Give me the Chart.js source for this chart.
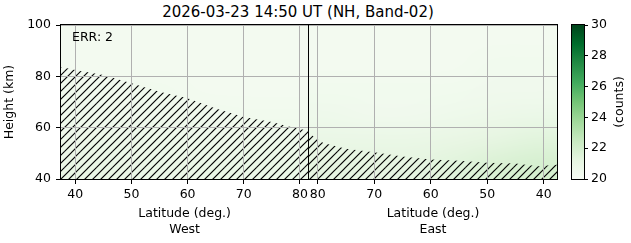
<!DOCTYPE html>
<html>
<head>
<meta charset="utf-8">
<script src="https://cdn.jsdelivr.net/npm/chart.js@4.4.1/dist/chart.umd.min.js"></script>
<style>
    body { margin: 0; width: 631px; height: 243px; background: #fff; position: relative; overflow: hidden; font-family: 'DejaVu Sans'; }
    canvas { position: absolute; top: 0; }
    #title { position: absolute; left: 0; width: 596px; top: 3px; text-align: center; font-size: 15px; color: #000; }
</style>
</head>
<body>
<div id="title">2026-03-23 14:50 UT (NH, Band-02)</div>
<canvas id="west" style="left:0px" width="311" height="243"></canvas>
<canvas id="east" style="left:305px" width="260" height="243"></canvas>
<canvas id="cbar" style="left:560px" width="71" height="243"></canvas>
<script>
// ---- data ----
const latTicks = [40, 50, 60, 70, 80];
const heightTicks = [40, 60, 80, 100];
const countTicks = [20, 22, 24, 26, 28, 30];

const westLatRange = [37.46, 81.47];
const eastLatRange = [81.54, 37.65];   // drawn left to right
const heightRange = [100, 40];          // rows top to bottom

// background counts, rows from 100 km down to 40 km, columns left to right
const westCounts = [
    [20.3, 20.3, 20.3, 20.3, 20.3, 20.3],
    [20.3, 20.3, 20.3, 20.3, 20.3, 20.3],
    [20.4, 20.4, 20.4, 20.3, 20.3, 20.3],
    [20.5, 20.5, 20.5, 20.5, 20.4, 20.4],
    [20.7, 20.7, 20.6, 20.6, 20.6, 20.6],
    [20.9, 20.9, 20.8, 20.8, 20.8, 20.8]
];
const eastCounts = [
    [20.3, 20.3, 20.3, 20.3, 20.3, 20.3],
    [20.3, 20.3, 20.3, 20.3, 20.4, 20.4],
    [20.4, 20.4, 20.4, 20.4, 20.5, 20.5],
    [20.6, 20.5, 20.5, 20.6, 20.7, 20.8],
    [20.9, 20.9, 20.9, 21.0, 21.2, 21.4],
    [21.2, 21.2, 21.2, 21.4, 21.7, 21.9]
];

// upper edge of the hatched (masked) region
const westEdgeLat = [37.46, 40, 45, 50, 55, 60, 65, 70, 75, 78, 81.47];
const westEdgeHeight = [83.6, 82.5, 80.5, 77.3, 74.0, 71.5, 67.5, 64.2, 62.2, 60.5, 58.8];
const eastEdgeLat = [81.54, 80, 79, 75, 70, 65, 60, 55, 50, 45, 41, 37.65];
const eastEdgeHeight = [57.8, 55.5, 54.0, 51.8, 50.4, 48.8, 47.6, 47.1, 46.3, 46.0, 45.0, 45.6];

const greens = ['#f7fcf5', '#e5f5e0', '#c7e9c0', '#a1d99b', '#74c476', '#41ab5d', '#238b45', '#006d2c', '#00441b'];

Chart.defaults.font.family = 'DejaVu Sans';
Chart.defaults.font.size = 12.5;
Chart.defaults.color = '#000';

function hexRgb(h) {
    return [1, 3, 5].map(i => parseInt(h.substr(i, 2), 16));
}

function greenColor(v) {
    let t = (v - countTicks[0]) / (countTicks[countTicks.length - 1] - countTicks[0]);
    t = Math.min(1, Math.max(0, t)) * (greens.length - 1);
    let i = Math.min(greens.length - 2, Math.floor(t));
    let a = hexRgb(greens[i]), b = hexRgb(greens[i + 1]), f = t - i;
    let c = a.map((x, k) => Math.round(x + (b[k] - x) * f));
    return 'rgb(' + c.join(',') + ')';
}

// "//" hatch, 8px apart
function makeHatch() {
    let c = document.createElement('canvas');
    c.width = 16; c.height = 16;
    let g = c.getContext('2d');
    g.strokeStyle = '#000';
    g.lineWidth = 1.15;
    for (let k = 0; k <= 32; k += 8) {
        g.beginPath();
        g.moveTo(-1, k + 1);
        g.lineTo(k + 1, -1);
        g.stroke();
    }
    return g.createPattern(c, 'repeat');
}

// smooth background image, stretched over the scales
const heatmap = {
    id: 'heatmap',
    beforeDatasetsDraw(chart, args, opts) {
        if (!opts.counts) return;
        let ctx = chart.ctx, a = chart.chartArea;
        let rows = opts.counts.length, cols = opts.counts[0].length;
        let off = document.createElement('canvas');
        off.width = cols; off.height = rows;
        let g = off.getContext('2d');
        opts.counts.forEach((row, r) => row.forEach((v, c) => {
            g.fillStyle = greenColor(v);
            g.fillRect(c, r, 1, 1);
        }));
        let x0 = chart.scales.x.getPixelForValue(opts.latRange[0]);
        let x1 = chart.scales.x.getPixelForValue(opts.latRange[1]);
        let y0 = chart.scales.y.getPixelForValue(heightRange[0]);
        let y1 = chart.scales.y.getPixelForValue(heightRange[1]);
        ctx.save();
        ctx.beginPath();
        ctx.rect(a.left, a.top, a.right - a.left, a.bottom - a.top);
        ctx.clip();
        ctx.imageSmoothingEnabled = true;
        ctx.imageSmoothingQuality = 'high';
        ctx.drawImage(off, x0, y0, x1 - x0, y1 - y0);
        ctx.restore();
    }
};

// black frame + optional note
const frame = {
    id: 'frame',
    afterDraw(chart, args, opts) {
        let ctx = chart.ctx, a = chart.chartArea;
        ctx.save();
        ctx.strokeStyle = '#000';
        ctx.lineWidth = 1;
        ctx.strokeRect(Math.round(a.left) - 0.5, Math.round(a.top) - 0.5,
            Math.round(a.right - a.left) + 1, Math.round(a.bottom - a.top) + 1);
        if (opts.note) {
            ctx.font = '12.5px "DejaVu Sans"';
            ctx.fillStyle = '#000';
            ctx.textBaseline = 'middle';
            ctx.fillText(opts.note, a.left + 11, a.top + 13);
        }
        ctx.restore();
    }
};

function panel(id, latRange, counts, edgeLat, edgeHeight, side) {
    let west = side === 'West';
    let lo = Math.min(latRange[0], latRange[1]), hi = Math.max(latRange[0], latRange[1]);
    return new Chart(document.getElementById(id), {
        type: 'line',
        data: {
            datasets: [{
                data: edgeLat.map((x, i) => ({ x: x, y: edgeHeight[i] })),
                fill: 'start',
                backgroundColor: makeHatch(),
                borderWidth: 0,
                pointRadius: 0,
                tension: 0
            }]
        },
        options: {
            responsive: false,
            animation: false,
            layout: { padding: west ? { top: 25, right: 2, left: 0, bottom: 0 } : { top: 25, right: 8, left: 0, bottom: 0 } },
            plugins: {
                legend: { display: false },
                tooltip: { enabled: false },
                heatmap: { counts: counts, latRange: latRange },
                frame: { note: west ? 'ERR: 2' : null }
            },
            scales: {
                x: {
                    type: 'linear', min: lo, max: hi, reverse: !west,
                    afterBuildTicks: s => { s.ticks = latTicks.map(v => ({ value: v })); },
                    afterFit: s => { s.height = 64; },
                    grid: { color: '#b0b0b0', tickColor: '#000', tickLength: 5, z: 1 },
                    border: { display: false },
                    ticks: { padding: 3, maxRotation: 0, autoSkip: false },
                    title: { display: true, text: ['Latitude (deg.)', side], font: { size: 12.5, lineHeight: 1.28 }, padding: { top: 0, bottom: 5 } }
                },
                y: {
                    type: 'linear', min: 40, max: 100,
                    afterBuildTicks: s => { s.ticks = heightTicks.map(v => ({ value: v })); },
                    afterFit: s => { s.width = west ? 61 : 4; },
                    grid: { color: '#b0b0b0', tickColor: '#000', tickLength: 5, drawTicks: west, z: 1 },
                    border: { display: false },
                    ticks: { display: west, padding: 5 },
                    title: { display: west, text: 'Height (km)', padding: { top: 2, bottom: 0 } }
                }
            }
        },
        plugins: [heatmap, frame]
    });
}

panel('west', westLatRange, westCounts, westEdgeLat, westEdgeHeight, 'West');
panel('east', eastLatRange, eastCounts, eastEdgeLat, eastEdgeHeight, 'East');

// colorbar
const colorbar = {
    id: 'colorbar',
    beforeDraw(chart) {
        let ctx = chart.ctx, a = chart.chartArea, ys = chart.scales.y;
        let y20 = ys.getPixelForValue(countTicks[0]);
        let y30 = ys.getPixelForValue(countTicks[countTicks.length - 1]);
        let grad = ctx.createLinearGradient(0, y20, 0, y30);
        greens.forEach((c, i) => grad.addColorStop(i / (greens.length - 1), c));
        ctx.save();
        ctx.fillStyle = grad;
        ctx.fillRect(a.left, y30, a.right - a.left, y20 - y30);
        ctx.restore();
    },
    afterDraw(chart) {
        let ctx = chart.ctx;
        ctx.save();
        ctx.translate(60, 102);
        ctx.rotate(-Math.PI / 2);
        ctx.font = '12.5px "DejaVu Sans"';
        ctx.fillStyle = '#000';
        ctx.textAlign = 'center';
        ctx.textBaseline = 'middle';
        ctx.fillText('(counts)', 0, 0);
        ctx.restore();
    }
};

new Chart(document.getElementById('cbar'), {
    type: 'line',
    data: { datasets: [] },
    options: {
        responsive: false,
        animation: false,
        layout: { padding: { top: 25, bottom: 64, left: 12, right: 0 } },
        plugins: { legend: { display: false }, tooltip: { enabled: false }, frame: {} },
        scales: {
            x: { type: 'linear', display: false, min: 0, max: 1 },
            y: {
                type: 'linear', position: 'right', min: 20, max: 30,
                afterBuildTicks: s => { s.ticks = countTicks.map(v => ({ value: v })); },
                afterFit: s => { s.width = 47; },
                grid: { drawOnChartArea: false, tickColor: '#000', tickLength: 4 },
                border: { display: false },
                ticks: { padding: 3 }
            }
        }
    },
    plugins: [colorbar, frame]
});
</script>
</body>
</html>
